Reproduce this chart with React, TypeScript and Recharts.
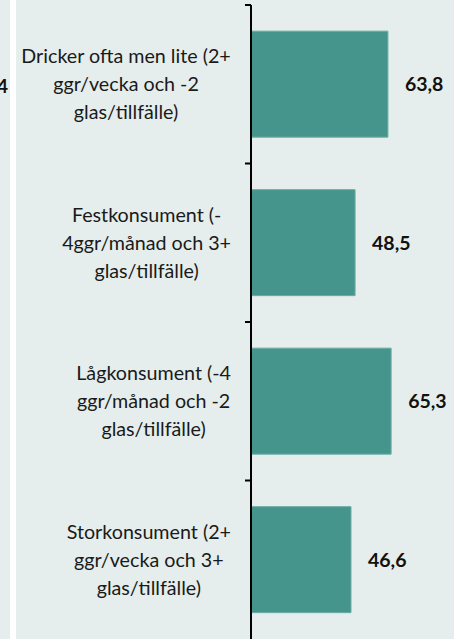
import React from "react";
import { BarChart, Bar, XAxis, YAxis, LabelList } from "recharts";

const categories = [
  "Dricker ofta men lite (2+\nggr/vecka och -2\nglas/tillfälle)",
  "Festkonsument (-\n4ggr/månad och 3+\nglas/tillfälle)",
  "Lågkonsument (-4\nggr/månad och -2\nglas/tillfälle)",
  "Storkonsument (2+\nggr/vecka och 3+\nglas/tillfälle)",
];
const values = [63.8, 48.5, 65.3, 46.6];
const leftFragmentLabel = "4";

const data = categories.map((c, i) => ({ name: c, value: values[i] }));

const W = 454;
const H = 639;
const TOP = 5;
const AXIS_X = 251;
const FONT = "Lato, 'Open Sans', sans-serif";
const CAT_SIZE = 19.7;
const VAL_SIZE = 19.5;
const LINE_H = 28;
const BAND = (H - TOP) / categories.length;

let ctx: CanvasRenderingContext2D | null = null;
function measure(t: string): number {
  if (!ctx) {
    const c = document.createElement("canvas");
    ctx = c.getContext("2d");
  }
  if (!ctx) return t.length * CAT_SIZE * 0.5;
  ctx.font = `${CAT_SIZE}px Lato`;
  return ctx.measureText(t).width;
}

function CategoryTick(props: any) {
  const { y, payload } = props;
  const lines = String(payload.value).split("\n");
  const w = Math.max(...lines.map(measure));
  const right = AXIS_X - 20;
  const cx = right - w / 2;
  const start = y - ((lines.length - 1) / 2) * LINE_H;
  return (
    <g>
      <line x1={AXIS_X - 6} x2={AXIS_X} y1={y - BAND / 2} y2={y - BAND / 2} stroke="#000" strokeWidth={2} />
      <text textAnchor="middle" fontFamily={FONT} fontSize={CAT_SIZE} fill="#1a1a1a">
        {lines.map((l, i) => (
          <tspan key={i} x={cx} y={start + i * LINE_H} dy="0.35em">
            {l}
          </tspan>
        ))}
      </text>
    </g>
  );
}

const fmt = (v: any) => String(v).replace(".", ",");

export default function App() {
  return (
    <div style={{ position: "absolute", left: 0, top: 0, width: W, height: H, background: "#fff", overflow: "hidden" }}>
      <div style={{ position: "absolute", left: 0, top: 0, width: 10, height: H, background: "#e5eeec" }} />
      <div style={{ position: "absolute", left: 16, top: 0, width: W - 16, height: H, background: "#e5eeec" }} />
      <svg style={{ position: "absolute", left: 0, top: 0 }} width={20} height={H}>
        <text x={8} y={86} dy="0.35em" textAnchor="end" fontFamily={FONT} fontWeight="bold" fontSize={VAL_SIZE} fill="#111">
          {leftFragmentLabel}
        </text>
      </svg>
      <div style={{ position: "absolute", left: 0, top: 0 }}>
        <BarChart
          width={W}
          height={H}
          data={data}
          layout="vertical"
          margin={{ top: TOP, right: 0, bottom: 0, left: 0 }}
          barCategoryGap="16.5%"
        >
          <XAxis type="number" hide domain={[0, 94.6]} />
          <YAxis
            type="category"
            dataKey="name"
            width={AXIS_X}
            axisLine={{ stroke: "#000", strokeWidth: 2 }}
            tickLine={false}
            tick={<CategoryTick />}
            interval={0}
          />
          <Bar dataKey="value" fill="#46958d" stroke="#6aaca4" strokeWidth={1} isAnimationActive={false}>
            <LabelList
              dataKey="value"
              position="right"
              offset={17}
              formatter={fmt}
              fontFamily={FONT}
              fontWeight="bold"
              fontSize={VAL_SIZE}
              fill="#111"
            />
          </Bar>
        </BarChart>
      </div>
    </div>
  );
}
